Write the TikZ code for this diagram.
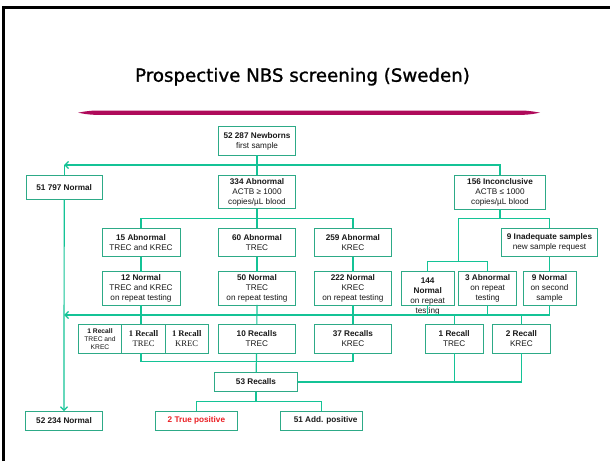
\documentclass[tikz,border=0pt]{standalone}
\usepackage{fontspec}
\setmainfont{Liberation Sans}
\newfontfamily\titlefont[FakeBold=1.2]{DejaVu Sans}
\newfontfamily\timesfont{Liberation Serif}
\usetikzlibrary{arrows.meta}

\definecolor{boxgreen}{RGB}{45,170,135}
\definecolor{linegreen}{RGB}{20,195,150}
\definecolor{barpink}{RGB}{175,10,90}
\definecolor{txt}{RGB}{25,25,25}
\definecolor{truered}{RGB}{235,30,35}

\newcommand{\spill}[1]{\smash{\raisebox{5pt}{\parbox[t]{52pt}{\centering #1}}}}

\tikzset{
    box/.style={draw=boxgreen, line width=0.9pt, fill=white, align=center,
        inner sep=0pt, outer sep=0pt, text=txt, font=\fontsize{8.2}{10}\selectfont},
    wh/.style 2 args={minimum width=#1pt, minimum height=#2pt},
    smallbox/.style={font=\fontsize{6.7}{8}\selectfont},
    serifbox/.style={font=\timesfont\fontsize{8.6}{10}\selectfont},
    wire/.style={draw=linegreen, line width=1.2pt},
    backarrow/.style={-{Straight Barb[length=3.5pt,width=7pt]}}
}

\begin{document}
\begin{tikzpicture}[x=1pt, y=-1pt]
    \useasboundingbox (0,0) rectangle (610,461);
    \draw[line width=2.5pt] (3.7,461) -- (3.7,7.5) -- (610,7.5);

    \node[font=\titlefont\fontsize{18.2}{20}\selectfont] (title) at (302.5,76.7)
        {Prospective NBS screening (Sweden)};
    \fill[barpink] (78,112.7) .. controls (90,110.5) .. (110,110.5) -- (508,110.5)
        .. controls (528,110.5) .. (540,112.7) .. controls (528,114.9) .. (508,114.9)
        -- (110,114.9) .. controls (90,114.9) .. (78,112.7) -- cycle;

    \node[box, wh={76.6}{28.6}] (newborns) at (257,141) {\textbf{52 287 Newborns}\\first sample};
    \node[box, wh={76.3}{24}] (normal1) at (64.2,187.3) {\textbf{51 797 Normal}};
    \node[box, wh={76.6}{33.4}] (abnormal) at (257,192) {\textbf{334 Abnormal}\\ACTB ≥ 1000\\copies/µL blood};
    \node[box, wh={91.7}{33.7}] (inconcl) at (500,192.2) {\textbf{156 Inconclusive}\\ACTB ≤ 1000\\copies/µL blood};

    \node[box, wh={78}{28.4}] (abn15) at (141,242.5) {\textbf{15 Abnormal}\\TREC and KREC};
    \node[box, wh={76.6}{28.4}] (abn60) at (257,242.5) {\textbf{60 Abnormal}\\TREC};
    \node[box, wh={77.7}{28.4}] (abn259) at (352.9,242.5) {\textbf{259 Abnormal}\\KREC};
    \node[box, wh={96.4}{28.4}] (inadeq) at (549.5,242.5) {\textbf{9 Inadequate samples}\\new sample request};

    \node[box, wh={78}{33.3}] (norm12) at (141,288.3) {\textbf{12 Normal}\\TREC and KREC\\on repeat testing};
    \node[box, wh={76.6}{33.3}] (norm50) at (257,288.3) {\textbf{50 Normal}\\TREC\\on repeat testing};
    \node[box, wh={77.7}{33.3}] (norm222) at (352.9,288.3) {\textbf{222 Normal}\\KREC\\on repeat testing};
    \node[box, wh={53.3}{33.3}] (norm144) at (427.7,288.3) {\spill{\textbf{144}\\\textbf{Normal}\\on repeat\\testing}};
    \node[box, wh={58}{33.3}] (abn3) at (487.7,288.3) {\textbf{3 Abnormal}\\on repeat\\testing};
    \node[box, wh={53}{33.3}] (norm9) at (549.5,288.3) {\textbf{9 Normal}\\on second\\sample};

    \node[box, smallbox, wh={43.4}{29}] (rec1) at (100,338.8) {\textbf{1 Recall}\\TREC and\\KREC};
    \node[box, serifbox, wh={43.6}{29}] (rec2) at (143.5,338.8) {\textbf{1 Recall}\\TREC};
    \node[box, serifbox, wh={42.7}{29}] (rec3) at (186.7,338.8) {\textbf{1 Recall}\\KREC};
    \node[box, wh={77}{29}] (rec10) at (256.8,338.8) {\textbf{10 Recalls}\\TREC};
    \node[box, wh={77.7}{29}] (rec37) at (352.9,338.8) {\textbf{37 Recalls}\\KREC};
    \node[box, wh={57.7}{29}] (rec1t) at (454.2,338.8) {\textbf{1 Recall}\\TREC};
    \node[box, wh={58.2}{29}] (rec2k) at (521.4,338.8) {\textbf{2 Recall}\\KREC};

    \node[box, wh={83}{19.4}] (rec53) at (256,382) {\textbf{53 Recalls}};
    \node[box, wh={77.4}{19.3}] (normal2) at (64,420.7) {\textbf{52 234 Normal}};
    \node[box, wh={82}{19.3}, text=truered] (truepos) at (196.4,420.7) {\textbf{2 True positive}};
    \node[box, wh={82}{19.3}] (addpos) at (321.6,420.7) {\hspace{8pt}\textbf{51 Add. positive}};

    \coordinate (split1) at (257,165);
    \coordinate (split2) at (257,218.3);
    \coordinate (split3) at (500,218.3);
    \coordinate (split4) at (458.3,261.7);
    \coordinate (back) at (549.5,315);
    \coordinate (merge1) at (256.8,361.7);
    \coordinate (split5) at (256,401.7);

    \draw[wire] (newborns) -- (abnormal);
    \draw[wire, backarrow] (split1) -- (split1 -| normal1.north);
    \draw[wire] (split1 -| normal1.north) -- (normal1.north);
    \draw[wire] (split1) -| (inconcl);
    \draw[wire, backarrow] (normal1) -- (normal2);

    \draw[wire] (abnormal) -- (abn60);
    \draw[wire] (abn15) |- (split2) -| (abn259);
    \draw[wire] (inconcl) -- (split3);
    \draw[wire] (split3) -| (inadeq);
    \draw[wire] (split3) -| (split4);
    \draw[wire] (norm144) |- (split4) -| (abn3);

    \draw[wire] (abn15) -- (norm12);
    \draw[wire] (abn60) -- (norm50);
    \draw[wire] (abn259) -- (norm222);
    \draw[wire] (inadeq) -- (norm9);

    \draw[wire, backarrow] (norm9) -- (back) -- (back -| normal1.south);
    \draw[wire] (norm144) -- (norm144 |- back);
    \draw[wire] (abn3) -- (abn3 |- back);
    \draw[wire] (norm12) -- (norm12 |- rec2.north);
    \draw[wire] (norm50) -- (rec10);
    \draw[wire] (norm222) -- (rec37);
    \draw[wire] (rec1t |- back) -- (rec1t);
    \draw[wire] (rec2k |- back) -- (rec2k);

    \draw[wire] (rec2.south -| norm12) |- (merge1) -| (rec37);
    \draw[wire] (rec10) -- (rec53);
    \draw[wire] (rec53) -| (rec2k);
    \draw[wire] (rec1t) -- (rec1t |- rec53);
    \draw[wire] (rec53) -- (split5);
    \draw[wire] (truepos) |- (split5) -| (addpos);
\end{tikzpicture}
\end{document}
